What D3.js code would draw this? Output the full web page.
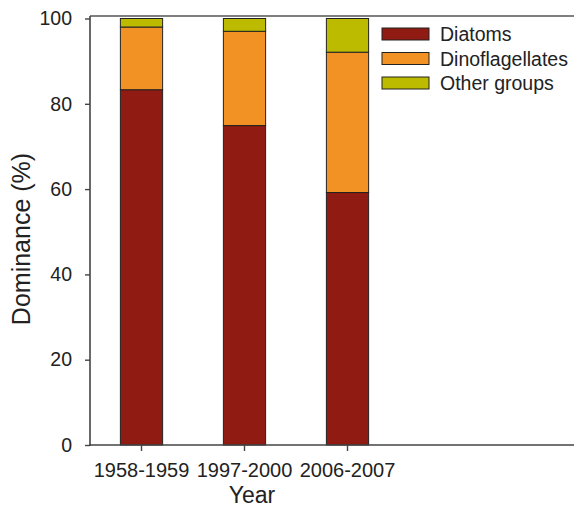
<!DOCTYPE html>
<html>
<head>
<meta charset="utf-8">
<script src="https://cdn.jsdelivr.net/npm/d3@7/dist/d3.min.js"></script>
<style>
  html, body { margin: 0; padding: 0; background: #fff; }
  svg { display: block; font-family: Arial, "Liberation Sans", sans-serif; }
</style>
</head>
<body>
<svg id="chart" width="574" height="509"></svg>
<script>
// Periods sampled and share of each phytoplankton group (%)
const periods = ["1958-1959", "1997-2000", "2006-2007"];
const diatoms = [83.3, 74.9, 59.2];
const dinoflagellates = [14.7, 22.1, 32.9];
const otherGroups = [2.0, 3.0, 7.9];

const groupNames = ["Diatoms", "Dinoflagellates", "Other groups"];
const groupColors = ["#8f1b12", "#f39224", "#bcbb00"];
const yTicks = [0, 20, 40, 60, 80, 100];

const svg = d3.select("#chart");
const plotLeft = 90, plotBottom = 445, plotTop = 18.5;

const rows = periods.map((p, i) => ({
  period: p,
  "Diatoms": diatoms[i],
  "Dinoflagellates": dinoflagellates[i],
  "Other groups": otherGroups[i]
}));
const stacked = d3.stack().keys(groupNames)(rows);

const x = d3.scaleBand()
  .domain(periods)
  .range([plotLeft, plotLeft + 309])
  .paddingInner(0.59)
  .paddingOuter(0.295);

const y = d3.scaleLinear().domain([0, 100]).range([plotBottom, plotTop]);

// Stacked bars
svg.append("g")
  .selectAll("g")
  .data(stacked)
  .join("g")
  .attr("fill", (d, i) => groupColors[i])
  .selectAll("rect")
  .data(d => d)
  .join("rect")
  .attr("x", d => x(d.data.period))
  .attr("width", x.bandwidth())
  .attr("y", d => y(d[1]))
  .attr("height", d => y(d[0]) - y(d[1]))
  .attr("stroke", "#222")
  .attr("stroke-width", 1);

// Frame: top line and axes
svg.append("line")
  .attr("x1", plotLeft).attr("x2", 574)
  .attr("y1", 16).attr("y2", 16)
  .attr("stroke", "#555").attr("stroke-width", 1.6);

const yAxis = svg.append("g")
  .attr("transform", `translate(${plotLeft},0)`)
  .call(d3.axisLeft(y).tickValues(yTicks).tickSize(5).tickPadding(13).tickSizeOuter(0));
yAxis.select(".domain").attr("stroke", "#444").attr("stroke-width", 1.6)
  .attr("d", `M0,${plotBottom + 1}V16`);
yAxis.selectAll(".tick line").attr("stroke", "#444").attr("stroke-width", 1.4);
yAxis.selectAll(".tick text")
  .attr("font-size", "19.5px").attr("fill", "#222")
  .attr("font-family", "Arial, 'Liberation Sans', sans-serif");

const xAxis = svg.append("g")
  .attr("transform", `translate(0,${plotBottom})`)
  .call(d3.axisBottom(x).tickSize(6).tickPadding(12).tickSizeOuter(0));
xAxis.select(".domain").attr("stroke", "#444").attr("stroke-width", 1.6)
  .attr("d", `M${plotLeft - 1},0H574`);
xAxis.selectAll(".tick line").attr("stroke", "#444").attr("stroke-width", 1.4);
xAxis.selectAll(".tick text")
  .attr("font-size", "20px").attr("fill", "#222")
  .attr("font-family", "Arial, 'Liberation Sans', sans-serif");

// Axis titles
svg.append("text")
  .attr("x", 252).attr("y", 503)
  .attr("text-anchor", "middle")
  .attr("font-size", "23px").attr("fill", "#222")
  .text("Year");

svg.append("text")
  .attr("transform", "translate(30,239) rotate(-90)")
  .attr("text-anchor", "middle")
  .attr("font-size", "25px").attr("fill", "#222")
  .text("Dominance (%)");

// Legend
const legend = svg.append("g");
groupNames.forEach((name, i) => {
  const cy = 34 + i * 24.5;
  legend.append("rect")
    .attr("x", 382).attr("y", cy - 6)
    .attr("width", 47).attr("height", 12)
    .attr("fill", groupColors[i])
    .attr("stroke", "#222").attr("stroke-width", 1);
  legend.append("text")
    .attr("x", 440).attr("y", cy + 7)
    .attr("font-size", "19.5px").attr("fill", "#222")
    .text(name);
});
</script>
</body>
</html>
